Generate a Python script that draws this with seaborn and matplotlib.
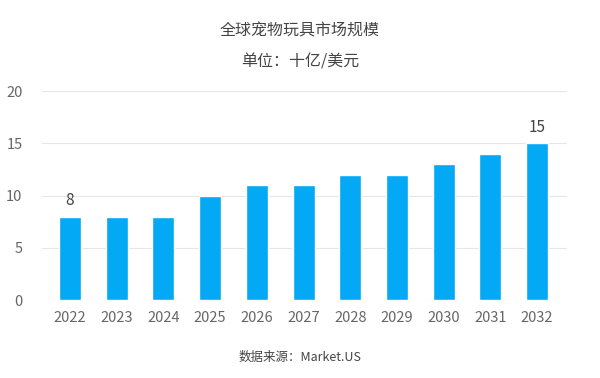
import matplotlib
matplotlib.use("Agg")
import matplotlib.pyplot as plt
import seaborn as sns
import pandas as pd

years = ["2022", "2023", "2024", "2025", "2026", "2027", "2028", "2029", "2030", "2031", "2032"]
values = [8, 8, 8, 10, 11, 11, 12, 12, 13, 14, 15]
y_ticks = [0, 5, 10, 15, 20]

title = "全球宠物玩具市场规模"
subtitle = "单位：十亿/美元"
source = "数据来源：Market.US"

sns.set_theme(style="white")
plt.rcParams['font.family'] = ['Noto Sans CJK SC', 'DejaVu Sans']

df = pd.DataFrame({"year": years, "value": values})

fig = plt.figure(figsize=(6, 3.78), dpi=100)
ax = fig.add_axes([0.07, 0.206, 0.875, 0.553])

sns.barplot(data=df, x="year", y="value", color="#03a9f4", saturation=1,
            width=0.47, ax=ax)

ax.set_xlim(-0.6, len(years) - 1 + 0.64)
ax.set_ylim(0, 20)
ax.set_yticks(y_ticks)
ax.yaxis.grid(True, color="#e6e6e6", linewidth=0.8)
ax.set_axisbelow(True)
for s in ax.spines.values():
    s.set_visible(False)
ax.set_xlabel("")
ax.set_ylabel("")
ax.tick_params(axis="both", length=0, labelsize=10.5, colors="#666666")
ax.tick_params(axis="x", pad=8)
ax.tick_params(axis="y", pad=14)

bars = ax.patches
for i in (0, len(values) - 1):
    b = bars[i]
    ax.text(b.get_x() + b.get_width() / 2, values[i] + 0.7, str(values[i]),
            ha="center", va="bottom", fontsize=11, color="#444444")

fig.text(0.5, 0.918, title, ha="center", va="center", fontsize=11.5, color="#444444")
fig.text(0.5, 0.835, subtitle, ha="center", va="center", fontsize=11.5, color="#444444")
fig.text(0.5, 0.055, source, ha="center", va="center", fontsize=9, color="#444444")

fig.savefig("out.png", dpi=100, facecolor="white")
